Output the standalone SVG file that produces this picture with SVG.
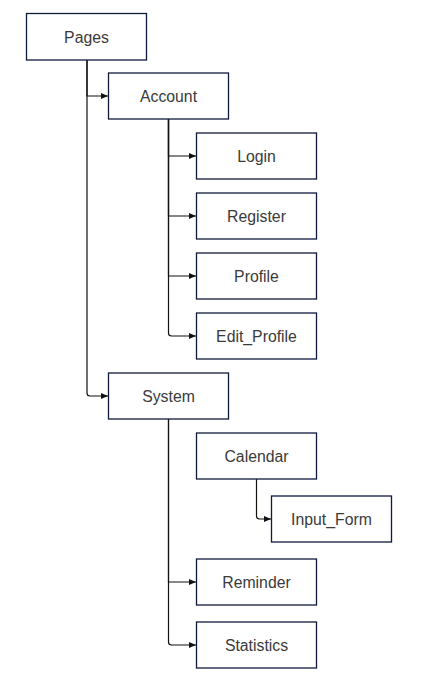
<svg xmlns="http://www.w3.org/2000/svg" width="444" height="691" viewBox="0 0 444 691">
<defs>
<marker id="arr" markerUnits="userSpaceOnUse" markerWidth="8" markerHeight="8" viewBox="0 0 8 8" refX="7" refY="4" orient="auto">
<path d="M0,1 L7,4 L0,7 Z" fill="#111"/>
</marker>
<style>
.box{fill:#fff;stroke:#101a3d;stroke-width:1.3}
.lbl{font-family:"Liberation Sans",Arial,sans-serif;font-size:15.8px;fill:#3a3a3a;text-anchor:middle;dominant-baseline:central}
.c{fill:none;stroke:#111;stroke-width:1.2;marker-end:url(#arr)}
</style>
</defs>
<rect width="444" height="691" fill="#fff"/>
<g id="connectors">
<path class="c" d="M87,60 V96 H108"/>
<path class="c" d="M87,60 V393 Q87,396 90,396 H108"/>
<path class="c" d="M168.5,119 V156 H196"/>
<path class="c" d="M168.5,119 V216 H196"/>
<path class="c" d="M168.5,119 V276 H196"/>
<path class="c" d="M168.5,119 V333 Q168.5,336 171.5,336 H196"/>
<path class="c" d="M168.5,419 V582 H196"/>
<path class="c" d="M168.5,419 V642 Q168.5,645 171.5,645 H196"/>
<path class="c" d="M256.5,479 V516 Q256.5,519 259.5,519 H271"/>
</g>
<g id="pages"><rect class="box" x="26.5" y="13.5" width="120" height="46.5"/><text class="lbl" x="86.5" y="37">Pages</text></g>
<g id="account"><rect class="box" x="108.5" y="73" width="120" height="46"/><text class="lbl" x="168.5" y="96">Account</text></g>
<g id="login"><rect class="box" x="196.5" y="133" width="120" height="46"/><text class="lbl" x="256.5" y="156">Login</text></g>
<g id="register"><rect class="box" x="196.5" y="193" width="120" height="46"/><text class="lbl" x="256.5" y="216">Register</text></g>
<g id="profile"><rect class="box" x="196.5" y="253" width="120" height="46"/><text class="lbl" x="256.5" y="276">Profile</text></g>
<g id="edit_profile"><rect class="box" x="196.5" y="313" width="120" height="46"/><text class="lbl" x="256.5" y="336">Edit_Profile</text></g>
<g id="system"><rect class="box" x="108.5" y="373" width="120" height="46"/><text class="lbl" x="168.5" y="396">System</text></g>
<g id="calendar"><rect class="box" x="196.5" y="433" width="120" height="46"/><text class="lbl" x="256.5" y="456">Calendar</text></g>
<g id="input_form"><rect class="box" x="271.5" y="496" width="120" height="46"/><text class="lbl" x="331.5" y="519">Input_Form</text></g>
<g id="reminder"><rect class="box" x="196.5" y="559" width="120" height="46"/><text class="lbl" x="256.5" y="582">Reminder</text></g>
<g id="statistics"><rect class="box" x="196.5" y="622" width="120" height="46"/><text class="lbl" x="256.5" y="645">Statistics</text></g>
</svg>
